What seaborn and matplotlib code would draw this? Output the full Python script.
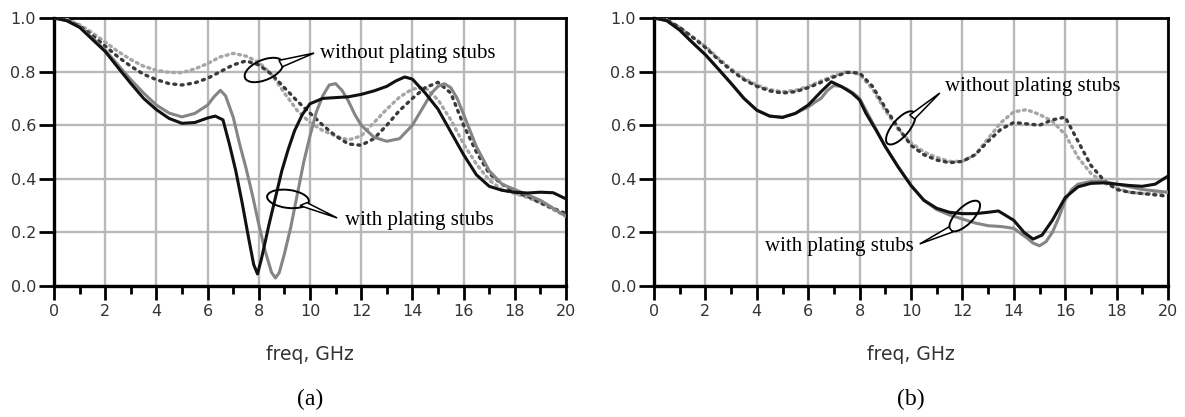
import numpy as np
import pandas as pd
import matplotlib
matplotlib.use("Agg")
import matplotlib.pyplot as plt
import seaborn as sns
from matplotlib.patches import Ellipse, Polygon
from matplotlib.transforms import ScaledTranslation
from matplotlib.ticker import MultipleLocator, FormatStrFormatter

# ---------------- data: panel (a) ----------------
a_with_black_f = [0, 0.5, 1, 1.5, 2, 2.5, 3, 3.5, 4, 4.5, 5, 5.5, 6, 6.3, 6.6, 6.85, 7.1, 7.35, 7.6, 7.8,
                  7.95, 8.1, 8.4, 8.65, 8.9, 9.15, 9.4, 9.7, 10, 10.5, 11, 11.5, 12, 12.5, 13, 13.35, 13.7, 14,
                  14.5, 15, 15.5, 16, 16.5, 17, 17.5, 18, 18.5, 19, 19.5, 20]
a_with_black_v = [1.0, 0.99, 0.965, 0.92, 0.875, 0.815, 0.756, 0.70, 0.658, 0.625, 0.607, 0.61, 0.627, 0.634,
                  0.62, 0.53, 0.43, 0.31, 0.18, 0.08, 0.045, 0.10, 0.23, 0.33, 0.43, 0.51, 0.58, 0.64, 0.68,
                  0.70, 0.703, 0.706, 0.715, 0.728, 0.745, 0.765, 0.78, 0.772, 0.72, 0.66, 0.575, 0.49, 0.415,
                  0.372, 0.357, 0.35, 0.347, 0.35, 0.348, 0.325]

a_with_gray_f = [0, 0.5, 1, 1.5, 2, 2.5, 3, 3.5, 4, 4.5, 5, 5.5, 6, 6.25, 6.5, 6.7, 7, 7.25, 7.5, 7.75, 8,
                 8.25, 8.5, 8.65, 8.8, 9, 9.25, 9.5, 9.75, 10, 10.25, 10.5, 10.75, 11, 11.25, 11.5, 11.75, 12,
                 12.5, 13, 13.5, 14, 14.5, 14.75, 15, 15.25, 15.5, 15.75, 16, 16.5, 17, 17.5, 18, 18.5, 19,
                 19.5, 20]
a_with_gray_v = [1.0, 0.99, 0.967, 0.925, 0.88, 0.825, 0.77, 0.72, 0.675, 0.645, 0.631, 0.644, 0.675, 0.706,
                 0.73, 0.71, 0.63, 0.53, 0.44, 0.34, 0.23, 0.13, 0.05, 0.03, 0.05, 0.12, 0.22, 0.34, 0.46,
                 0.56, 0.65, 0.71, 0.75, 0.755, 0.73, 0.69, 0.64, 0.60, 0.555, 0.54, 0.55, 0.60, 0.68, 0.72,
                 0.745, 0.755, 0.74, 0.70, 0.64, 0.52, 0.43, 0.38, 0.36, 0.34, 0.32, 0.29, 0.26]

half_step_f = [0, 0.5, 1, 1.5, 2, 2.5, 3, 3.5, 4, 4.5, 5, 5.5, 6, 6.5, 7, 7.5, 8, 8.5, 9, 9.5, 10, 10.5, 11,
               11.5, 12, 12.5, 13, 13.5, 14, 14.5, 15, 15.5, 16, 16.5, 17, 17.5, 18, 18.5, 19, 19.5, 20]

a_without_light_v = [1.0, 0.995, 0.975, 0.945, 0.91, 0.875, 0.845, 0.82, 0.805, 0.797, 0.796, 0.81, 0.83,
                     0.855, 0.868, 0.858, 0.835, 0.79, 0.72, 0.655, 0.61, 0.58, 0.56, 0.545, 0.56, 0.61, 0.66,
                     0.705, 0.735, 0.74, 0.695, 0.62, 0.53, 0.455, 0.395, 0.36, 0.345, 0.33, 0.31, 0.285, 0.26]
a_without_dark_v = [1.0, 0.993, 0.97, 0.935, 0.895, 0.855, 0.82, 0.79, 0.77, 0.755, 0.75, 0.758, 0.775, 0.80,
                    0.825, 0.84, 0.825, 0.79, 0.74, 0.69, 0.645, 0.60, 0.56, 0.53, 0.525, 0.55, 0.60, 0.655,
                    0.70, 0.74, 0.76, 0.72, 0.60, 0.50, 0.42, 0.38, 0.35, 0.335, 0.31, 0.29, 0.27]

# ---------------- data: panel (b) ----------------
b_with_black_f = [0, 0.5, 1, 1.5, 2, 2.5, 3, 3.5, 4, 4.5, 5, 5.5, 6, 6.5, 6.9, 7.3, 7.7, 8, 8.25, 8.65, 9,
                  9.5, 10, 10.5, 11, 11.5, 12, 12.5, 13, 13.4, 14, 14.4, 14.75, 15.1, 15.5, 16, 16.5, 17,
                  17.5, 18, 18.5, 19, 19.5, 20]
b_with_black_v = [1.0, 0.99, 0.955, 0.908, 0.863, 0.81, 0.756, 0.70, 0.656, 0.634, 0.629, 0.644, 0.675,
                  0.725, 0.762, 0.744, 0.72, 0.694, 0.644, 0.58, 0.52, 0.444, 0.375, 0.32, 0.29, 0.275, 0.27,
                  0.27, 0.275, 0.28, 0.245, 0.20, 0.175, 0.19, 0.245, 0.33, 0.37, 0.383, 0.385, 0.38, 0.375,
                  0.372, 0.38, 0.41]

b_with_gray_f = [0, 0.5, 1, 1.5, 2, 2.5, 3, 3.5, 4, 4.5, 5, 5.5, 6, 6.25, 6.5, 6.75, 7, 7.25, 7.5, 7.75, 8,
                 8.25, 8.5, 9, 9.5, 10, 10.5, 11, 11.5, 12, 12.5, 13, 13.5, 14, 14.5, 14.75, 15, 15.25, 15.5,
                 15.75, 16, 16.25, 16.5, 17, 17.5, 18, 18.5, 19, 19.5, 20]
b_with_gray_v = [1.0, 0.99, 0.955, 0.908, 0.863, 0.81, 0.756, 0.70, 0.656, 0.634, 0.63, 0.644, 0.668, 0.685,
                 0.70, 0.73, 0.748, 0.745, 0.735, 0.72, 0.70, 0.655, 0.61, 0.52, 0.445, 0.375, 0.32, 0.285,
                 0.265, 0.25, 0.235, 0.225, 0.222, 0.215, 0.18, 0.16, 0.15, 0.165, 0.20, 0.255, 0.32, 0.36,
                 0.38, 0.39, 0.39, 0.38, 0.37, 0.36, 0.355, 0.35]

b_without_light_v = [1.0, 0.993, 0.965, 0.93, 0.895, 0.85, 0.81, 0.775, 0.75, 0.733, 0.725, 0.73, 0.745,
                     0.765, 0.785, 0.80, 0.79, 0.735, 0.655, 0.585, 0.535, 0.50, 0.48, 0.465, 0.465, 0.49,
                     0.55, 0.61, 0.65, 0.658, 0.64, 0.615, 0.565, 0.48, 0.42, 0.385, 0.365, 0.35, 0.345,
                     0.345, 0.35]
b_without_dark_v = [1.0, 0.993, 0.965, 0.928, 0.89, 0.845, 0.805, 0.77, 0.745, 0.728, 0.72, 0.725, 0.74,
                    0.76, 0.78, 0.797, 0.795, 0.745, 0.665, 0.59, 0.525, 0.49, 0.47, 0.46, 0.465, 0.49, 0.54,
                    0.585, 0.61, 0.605, 0.60, 0.62, 0.63, 0.54, 0.45, 0.395, 0.36, 0.35, 0.345, 0.34, 0.335]

x_ticks = [0, 2, 4, 6, 8, 10, 12, 14, 16, 18, 20]
y_ticks = [0.0, 0.2, 0.4, 0.6, 0.8, 1.0]
panel_labels = ["(a)", "(b)"]


def series(panel, name, f, v):
    return pd.DataFrame({"freq": f, "value": v, "series": name, "panel": panel})


df = pd.concat([
    series("a", "without_light", half_step_f, a_without_light_v),
    series("a", "without_dark", half_step_f, a_without_dark_v),
    series("a", "with_gray", a_with_gray_f, a_with_gray_v),
    series("a", "with_black", a_with_black_f, a_with_black_v),
    series("b", "without_light", half_step_f, b_without_light_v),
    series("b", "without_dark", half_step_f, b_without_dark_v),
    series("b", "with_gray", b_with_gray_f, b_with_gray_v),
    series("b", "with_black", b_with_black_f, b_with_black_v),
], ignore_index=True)

line_styles = {
    "without_light": dict(color="#a6a6a6", linewidth=2.4, linestyle=(0, (0.6, 1.3))),
    "without_dark": dict(color="#3a3a3a", linewidth=2.4, linestyle=(0, (0.6, 1.6))),
    "with_gray": dict(color="#858585", linewidth=2.2, linestyle="-"),
    "with_black": dict(color="#111111", linewidth=2.2, linestyle="-"),
}

sns.set_style("white")
plt.rcParams["font.family"] = ["DejaVu Sans"]
SERIF = "Liberation Serif"

fig = plt.figure(figsize=(11.85, 4.17), dpi=100)
ax_a = fig.add_axes([54 / 1185, 131 / 417, 512 / 1185, 268 / 417])
ax_b = fig.add_axes([654 / 1185, 131 / 417, 514 / 1185, 268 / 417])
axes = {"a": ax_a, "b": ax_b}

for panel, ax in axes.items():
    sub = df[df["panel"] == panel]
    for name, st in line_styles.items():
        d = sub[sub["series"] == name]
        sns.lineplot(data=d, x="freq", y="value", ax=ax, estimator=None, sort=False,
                     legend=False, dash_capstyle="round", zorder=3, **st)

    ax.set_xlim(0, 20)
    ax.set_ylim(0, 1)
    ax.set_xticks(x_ticks)
    ax.set_yticks(y_ticks)
    ax.xaxis.set_minor_locator(MultipleLocator(1))
    ax.yaxis.set_major_formatter(FormatStrFormatter("%.1f"))
    ax.grid(True, which="major", color="#b8b8b8", linewidth=1.7)
    ax.set_axisbelow(True)
    ax.tick_params(axis="x", which="major", bottom=True, top=False, length=10, width=2,
                   direction="out", pad=3, labelsize=11.5, labelcolor="#333333", color="black")
    ax.tick_params(axis="x", which="minor", bottom=True, top=False, length=6, width=2,
                   direction="out", color="black")
    ax.tick_params(axis="y", which="major", left=True, right=False, length=11, width=2,
                   direction="out", pad=2, labelsize=11.5, labelcolor="#333333", color="black")
    for side in ["left", "bottom"]:
        ax.spines[side].set_linewidth(2.4)
        ax.spines[side].set_color("black")
    for side in ["top", "right"]:
        ax.spines[side].set_linewidth(2.0)
        ax.spines[side].set_color("black")
    ax.set_ylabel("")
    ax.set_xlabel("freq, GHz", fontsize=13.5, color="#333333")
    ax.xaxis.set_label_coords(0.5, -0.257)
    ax.xaxis.label.set_va("center")


def ring(ax, f, v, w_px, h_px, angle):
    tr = fig.dpi_scale_trans + ScaledTranslation(f, v, ax.transData)
    ax.add_patch(Ellipse((0, 0), w_px / 100, h_px / 100, angle=angle, transform=tr, fill=False,
                         edgecolor="black", linewidth=1.4, zorder=6, clip_on=False))


def pointer(ax, pts):
    ax.add_patch(Polygon(pts, closed=True, facecolor="white", edgecolor="black",
                         linewidth=1.1, zorder=6, clip_on=False))


def note(ax, f, v, s, ha):
    ax.text(f, v, s, family=SERIF, fontsize=15, ha=ha, va="center", color="black", zorder=7)


# panel (a) callouts
ring(ax_a, 8.2, 0.806, 41, 20, 23)
pointer(ax_a, [(8.79, 0.842), (8.92, 0.818), (10.16, 0.869)])
note(ax_a, 10.39, 0.869, "without plating stubs", "left")
ring(ax_a, 9.14, 0.325, 42, 18, -7)
pointer(ax_a, [(9.61, 0.300), (9.88, 0.311), (11.06, 0.254)])
note(ax_a, 11.37, 0.246, "with plating stubs", "left")

# panel (b) callouts
ring(ax_b, 9.6, 0.59, 41, 17, 50)
pointer(ax_b, [(9.95, 0.638), (10.14, 0.623), (11.12, 0.720)])
note(ax_b, 11.31, 0.746, "without plating stubs", "left")
ring(ax_b, 12.09, 0.261, 40, 17, 45)
pointer(ax_b, [(11.47, 0.220), (11.62, 0.2015), (10.34, 0.157)])
note(ax_b, 10.10, 0.149, "with plating stubs", "right")

for ax, lab in zip([ax_a, ax_b], panel_labels):
    ax.text(0.5, -0.425, lab, transform=ax.transAxes, ha="center", va="center",
            family=SERIF, fontsize=17, color="black")

fig.savefig("out.png", dpi=100, facecolor="white")
